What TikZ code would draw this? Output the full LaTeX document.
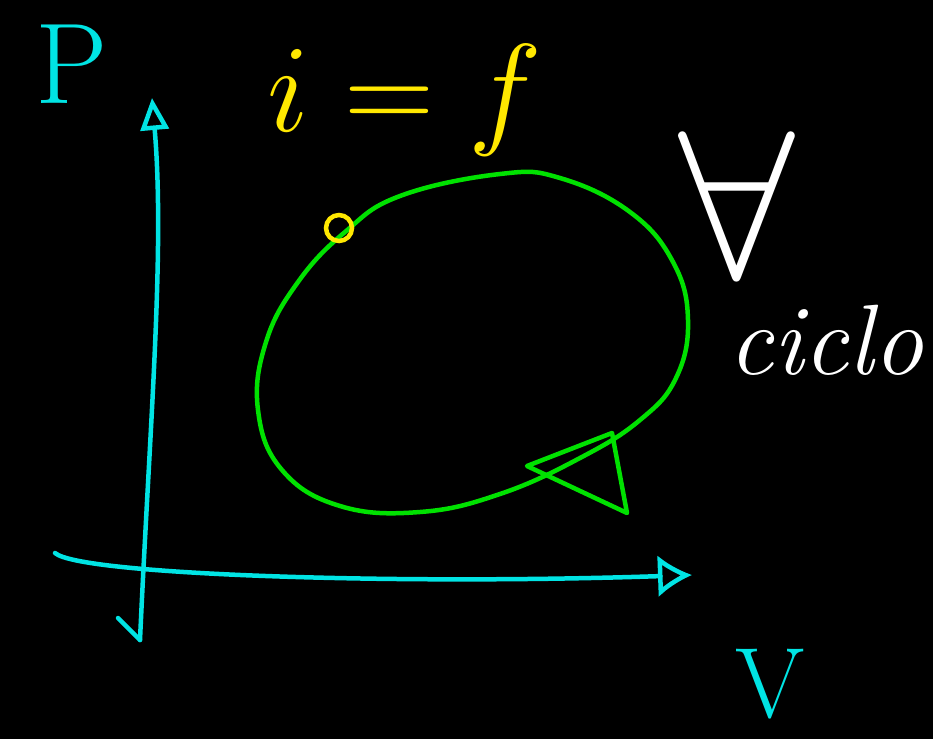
\RequirePackage{fix-cm}
\documentclass[tikz,border=0pt]{standalone}
\usepackage{amsmath}
\usetikzlibrary{arrows.meta,positioning}
\definecolor{inkcyan}{RGB}{0,228,228}
\definecolor{inkgreen}{RGB}{0,225,0}
\definecolor{inkyellow}{RGB}{255,232,0}
\begin{document}
\begin{tikzpicture}[x=1pt,y=-1pt,
axis/.style={draw=inkcyan, line width=4.5pt, line cap=round, line join=round},
cycleline/.style={draw=inkgreen, line width=4.5pt, line cap=round, line join=round},
handlabel/.style={inner sep=0pt, anchor=center},
startdot/.style={circle, draw=inkyellow, line width=4.5pt, minimum size=26pt, inner sep=0pt},]
\fill[black] (0,0) rectangle (933,739);
\useasboundingbox (0,0) rectangle (933,739);
% axes
\coordinate (origin) at (140,640);
\coordinate (ptop) at (152,98);
\coordinate (vstart) at (55,553);
\coordinate (vend) at (692,575);
\draw[axis, -{Triangle[open,length=32pt,width=28pt]}]
    (origin) .. controls (150,420) and (165,250) .. (ptop);
\draw[axis] (origin) -- (118,618);
\draw[axis, -{Latex[open,length=34pt,width=42pt]}]
    (vstart) .. controls (80,575) and (400,585) .. (vend);
\node[handlabel, text=inkcyan, font=\fontsize{115}{115}\selectfont] (plabel) at (72,64) {P};
\node[handlabel, text=inkcyan, font=\fontsize{100}{100}\selectfont] (vlabel) at (770,684) {V};
% the cycle
\draw[cycleline] plot[smooth cycle, tension=0.7] coordinates {
    (345,232) (400,196) (500,174) (560,178) (630,212) (673,262) (688,320)
    (676,378) (640,420) (580,458) (500,494) (420,512) (340,506)
    (282,470) (258,410) (266,342) (298,282)};
\coordinate (tip) at (527,466);
\coordinate (wing1) at (612,433);
\coordinate (wing2) at (627,513);
\draw[cycleline] (tip) -- (wing1) -- (wing2) -- cycle;
\node[startdot] (start) at (339,228) {};
\node[handlabel, text=inkyellow, font=\fontsize{125}{125}\selectfont] (state) at (405,100) {$i=f$};
\node[handlabel, text=white, font=\fontsize{210}{210}\selectfont] (forall) at (737,205) {$\forall$};
\node[handlabel, text=white, font=\fontsize{100}{100}\selectfont\itshape] (ciclo) at (826,340) {ciclo};
\end{tikzpicture}
\end{document}
